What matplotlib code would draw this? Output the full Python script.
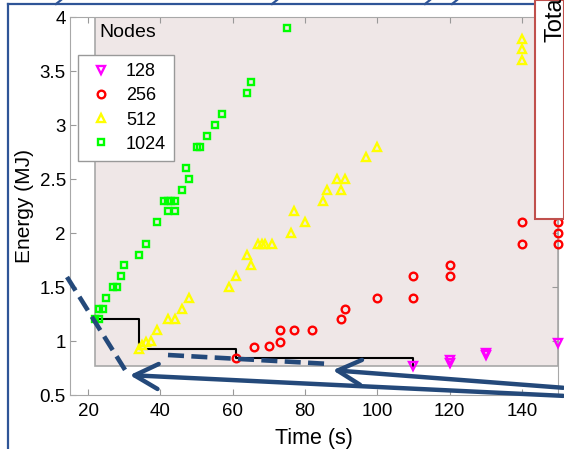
import matplotlib
matplotlib.use('Agg')
import matplotlib.pyplot as plt
from matplotlib.patches import Rectangle, FancyArrowPatch
from matplotlib.lines import Line2D

plt.rcParams['font.family'] = ['Liberation Sans', 'DejaVu Sans']

# 1024 nodes
t1024 = [22, 23, 23, 24, 25, 27, 28, 29, 30, 34, 36, 39, 41, 42, 43, 44, 42, 44,
         46, 47, 48, 50, 51, 53, 55, 57, 64, 65, 75]
e1024 = [1.2, 1.2, 1.3, 1.3, 1.4, 1.5, 1.5, 1.6, 1.7, 1.8, 1.9, 2.1, 2.3, 2.3, 2.3, 2.3, 2.2, 2.2,
         2.4, 2.6, 2.5, 2.8, 2.8, 2.9, 3.0, 3.1, 3.3, 3.4, 3.9]
# 512 nodes
t512 = [34, 35, 36, 37.5, 39, 42, 44, 46, 48, 59, 61, 64, 65, 67, 68, 69, 71, 76, 77, 80,
        85, 86, 89, 90, 91, 97, 100, 140, 140, 140]
e512 = [0.93, 0.96, 0.99, 1.0, 1.1, 1.2, 1.2, 1.3, 1.4, 1.5, 1.6, 1.8, 1.7, 1.9, 1.9, 1.9, 1.9, 2.0, 2.2, 2.1,
        2.3, 2.4, 2.5, 2.4, 2.5, 2.7, 2.8, 3.8, 3.7, 3.6]
# 256 nodes
t256 = [61, 66, 70, 73, 73, 77, 82, 90, 91, 100, 110, 110, 120, 120, 140, 140, 150, 150, 150]
e256 = [0.84, 0.94, 0.95, 0.99, 1.1, 1.1, 1.1, 1.2, 1.3, 1.4, 1.4, 1.6, 1.6, 1.7, 1.9, 2.1, 1.9, 2.0, 2.1]
# 128 nodes
t128 = [110, 120, 120, 130, 130, 150]
e128 = [0.77, 0.82, 0.80, 0.89, 0.87, 0.98]

# pareto frontier
front_t = [22, 34, 61, 110]
front_e = [1.2, 0.93, 0.84, 0.77]

xticks = [20, 40, 60, 80, 100, 120, 140]
yticks = [0.5, 1, 1.5, 2, 2.5, 3, 3.5, 4]

W, H = 564, 449
fig = plt.figure(figsize=(W / 100, H / 100), dpi=100)
ax = fig.add_axes([70 / W, 1 - 395 / H, 488 / W, 378 / H])
ax.set_xlim(15, 150)
ax.set_ylim(0.5, 4)

# shaded region
x0, y0 = min(t1024), min(e128)
ax.add_patch(Rectangle((x0, y0), 150 - x0, 4 - y0, facecolor='#EFE7E7',
                       edgecolor='#A8A8A8', lw=1.2, zorder=0))

ms = dict(ls='none', mfc='none', mew=1.7, clip_on=False, zorder=3)
ax.plot(t128, e128, 'v', color='#FF00FF', ms=6, label='128', **ms)
ax.plot(t256, e256, 'o', color='#FF0000', ms=5.5, label='256', **ms)
ax.plot(t512, e512, '^', color='#FFFF00', ms=6, label='512', **ms)
ax.plot(t1024, e1024, 's', color='#00FF00', ms=5, label='1024', **ms)

ax.plot(front_t, front_e, color='black', lw=1.5, drawstyle='steps-post', zorder=2)

ax.text(23, 3.86, 'Nodes', fontsize=14, va='center', ha='left')

ax.set_xticks(xticks)
ax.set_yticks(yticks)
ax.set_yticklabels(['0.5', '1', '1.5', '2', '2.5', '3', '3.5', '4'])
ax.tick_params(direction='in', length=4, color='#999999', labelsize=13.5,
               top=True, right=True)
ax.tick_params(axis='x', pad=6)
ax.tick_params(axis='y', pad=3)
for s in ax.spines.values():
    s.set_color('#A8A8A8')
ax.set_xlabel('Time (s)', fontsize=15.5)
ax.set_ylabel('Energy (MJ)', fontsize=15)
ax.xaxis.set_label_coords(0.5, -0.087)
ax.yaxis.set_label_coords(-0.074, 0.5)

leg = ax.legend(loc='upper left', bbox_to_anchor=(78 / W, 1 - 55 / H),
                bbox_transform=fig.transFigure, borderaxespad=0, fontsize=13,
                fancybox=False, framealpha=1, edgecolor='#999999',
                handlelength=1.6, handletextpad=0.6, labelspacing=0.4,
                borderpad=0.45)
leg.get_frame().set_linewidth(1.0)


def px(x, y):
    return (x / W, 1 - y / H)


blue = '#24497A'
tf = fig.transFigure

# slide border
fig.add_artist(Line2D([px(8, 0)[0], px(8, 0)[0]], [px(0, 4)[1], 0], color='#2F5597', lw=1.6, transform=tf))
fig.add_artist(Line2D([px(8, 0)[0], px(535, 0)[0]], [px(0, 4)[1], px(0, 4)[1]], color='#2F5597', lw=1.6, transform=tf))
for bx in [59, 275, 428, 455]:
    fig.add_artist(Line2D([px(bx - 3, 0)[0], px(bx + 2, 0)[0]], [px(0, 4)[1], 1.0],
                          color='#2F5597', lw=1.6, transform=tf))

# red box at top right
fig.add_artist(Rectangle(px(535, 219), (W - 535) / W, 219 / H, transform=tf,
                         facecolor='white', edgecolor='#C0504D', lw=1.5, zorder=5))
fig.text(px(545, 0)[0], px(0, 42)[1], 'Total', rotation=90, fontsize=17,
         ha='left', va='bottom', zorder=6)

# dashed blue lines
fig.add_artist(Line2D([px(67, 0)[0], px(127, 0)[0]], [px(0, 277)[1], px(0, 373)[1]],
                      color=blue, lw=3.3, ls=(0, (3.5, 1.6)), transform=tf))
fig.add_artist(Line2D([px(168, 0)[0], px(330, 0)[0]], [px(0, 355)[1], px(0, 364)[1]],
                      color=blue, lw=3.3, ls=(0, (3.5, 1.6)), transform=tf))

# arrows
for start, end in [((566, 396), (127, 375)), ((566, 388), (330, 370))]:
    fig.add_artist(FancyArrowPatch(px(*start), px(*end), transform=tf,
                                   arrowstyle='->,head_length=17,head_width=9',
                                   mutation_scale=1, color=blue, lw=3.2, zorder=6))

fig.savefig('out.png', dpi=100)
